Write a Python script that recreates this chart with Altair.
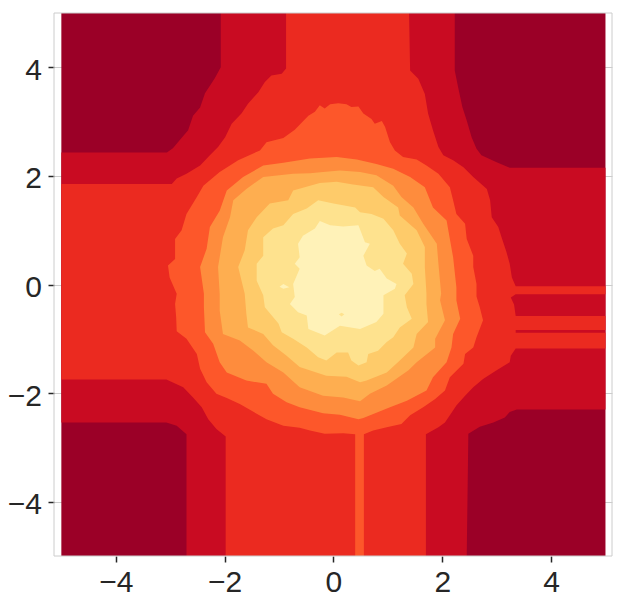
import altair as alt
import pandas as pd

COLORS = ["#9b0027", "#c90b22", "#eb2a20", "#fd572a", "#fe8c3d", "#feae50", "#fecb6a", "#fee28e", "#fff2b8"]

base_x = [-5, 5, 5, -5]
base_y = [5, 5, -5, -5]

red_x = [-2.07, 2.23, 2.23, 2.29, 2.37, 2.45, 2.54, 2.63, 2.72, 3.00, 3.24, 5, 5, 3.37, 3.24, 3.15, 2.94, 2.69, 2.48, 2.45, -2.70, -2.70, -2.88, -3.07, -5, -5, -3.06, -2.95, -2.78, -2.67, -2.58, -2.45, -2.36, -2.18, -2.07]
red_y = [5, 5, 3.94, 3.64, 3.27, 3.02, 2.71, 2.50, 2.38, 2.25, 2.15, 2.15, -2.30, -2.30, -2.35, -2.45, -2.54, -2.62, -2.75, -5, -5, -2.76, -2.60, -2.54, -2.54, 2.43, 2.43, 2.51, 2.71, 2.84, 3.11, 3.26, 3.52, 3.80, 4.00]

ored_x = [-0.87, 1.39, 1.41, 1.56, 1.68, 1.74, 1.83, 1.93, 2.02, 2.20, 2.39, 2.57, 2.82, 2.88, 2.91, 3.03, 3.09, 3.18, 3.24, 3.28, 3.35, 5, 5, 3.35, 3.26, 3.32, 3.35, 5, 5, 3.35, 3.35, 5, 5, 3.35, 3.26, 3.24, 3.00, 2.75, 2.57, 2.42, 2.26, 2.14, 2.05, 1.93, 1.70, 1.70, -1.98, -1.98, -2.15, -2.30, -2.42, -2.58, -2.76, -3.07, -5, -5, -2.97, -2.88, -2.70, -2.45, -2.27, -2.12, -1.99, -1.87, -1.69, -1.57, -1.38, -1.26, -1.14, -0.95, -0.87]
ored_y = [5, 5, 3.94, 3.79, 3.51, 3.15, 2.84, 2.53, 2.38, 2.29, 2.16, 1.98, 1.76, 1.55, 1.24, 1.06, 0.87, 0.60, 0.38, 0.13, -0.03, -0.03, -0.18, -0.18, -0.24, -0.37, -0.58, -0.58, -0.84, -0.84, -0.89, -0.89, -1.18, -1.18, -1.31, -1.43, -1.58, -1.74, -1.89, -2.05, -2.23, -2.41, -2.54, -2.63, -2.76, -5, -5, -2.80, -2.66, -2.48, -2.26, -2.08, -1.89, -1.75, -1.75, 1.85, 1.85, 1.95, 2.04, 2.19, 2.38, 2.53, 2.71, 2.96, 3.15, 3.33, 3.54, 3.73, 3.85, 3.88, 3.98]

flame_x = [-0.25, -0.16, -0.06, 0.09, 0.24, 0.33, 0.46, 0.55, 0.70, 0.76, 0.89, 0.95, 1.04, 1.13, 1.28, 1.53, 1.71, 1.93, 2.14, 2.20, 2.26, 2.42, 2.45, 2.57, 2.57, 2.63, 2.63, 2.69, 2.75, 2.63, 2.57, 2.42, 2.39, 2.14, 2.05, 1.87, 1.65, 1.41, 1.25, 0.98, 0.73, 0.56, 0.56, 0.40, 0.40, 0.18, -0.16, -0.43, -0.62, -0.92, -1.23, -1.41, -1.72, -1.96, -2.15, -2.33, -2.45, -2.51, -2.70, -2.88, -2.89, -2.91, -2.88, -3.01, -3.04, -2.91, -2.91, -2.79, -2.70, -2.51, -2.39, -2.09, -1.75, -1.35, -1.23, -0.92, -0.71, -0.46, -0.34]
flame_y = [3.30, 3.24, 3.32, 3.34, 3.32, 3.27, 3.28, 3.15, 3.05, 2.96, 3.01, 2.90, 2.62, 2.47, 2.35, 2.30, 2.19, 2.04, 1.79, 1.55, 1.30, 1.12, 0.84, 0.53, 0.32, 0.01, -0.22, -0.42, -0.66, -0.97, -1.16, -1.28, -1.46, -1.71, -1.95, -2.11, -2.26, -2.41, -2.57, -2.63, -2.69, -2.76, -5, -5, -2.76, -2.74, -2.75, -2.69, -2.64, -2.60, -2.48, -2.38, -2.20, -2.09, -2.01, -1.80, -1.55, -1.28, -1.00, -0.86, -0.60, -0.36, -0.17, 0.13, 0.35, 0.47, 0.84, 1.00, 1.30, 1.61, 1.82, 2.07, 2.29, 2.47, 2.62, 2.70, 2.85, 3.11, 3.18]

orange_x = [-0.43, 0.06, 0.43, 0.79, 1.10, 1.41, 1.68, 1.83, 2.08, 2.20, 2.26, 2.26, 2.33, 2.20, 2.17, 2.08, 1.83, 1.71, 1.35, 1.04, 0.55, 0.46, 0.12, -0.19, -0.62, -0.86, -1.11, -1.23, -1.60, -1.96, -2.09, -2.21, -2.36, -2.38, -2.38, -2.45, -2.33, -2.27, -2.09, -1.96, -1.66, -1.29, -0.92]
orange_y = [2.32, 2.35, 2.30, 2.22, 2.13, 1.98, 1.79, 1.42, 1.18, 0.50, -0.05, -0.29, -0.63, -0.91, -1.16, -1.43, -1.71, -1.95, -2.14, -2.26, -2.46, -2.48, -2.40, -2.37, -2.26, -2.17, -2.01, -1.83, -1.77, -1.62, -1.43, -1.09, -0.88, -0.42, -0.17, 0.32, 0.66, 1.06, 1.36, 1.73, 1.98, 2.19, 2.24]

amber_x = [-0.43, -0.19, 0.12, 0.49, 0.79, 1.10, 1.25, 1.47, 1.65, 1.90, 1.93, 1.98, 1.96, 2.05, 1.87, 1.87, 1.53, 1.38, 0.98, 0.67, 0.49, 0.18, -0.19, -0.62, -0.92, -1.23, -1.47, -1.72, -2.03, -2.09, -2.09, -2.12, -2.03, -1.90, -1.84, -1.60, -1.29, -0.74]
amber_y = [2.05, 2.07, 2.10, 2.07, 2.01, 1.82, 1.61, 1.42, 1.12, 0.75, 0.38, -0.17, -0.29, -0.66, -1.00, -1.16, -1.43, -1.58, -1.86, -2.01, -2.15, -2.08, -2.05, -1.89, -1.62, -1.43, -1.22, -1.03, -0.91, -0.48, -0.17, 0.32, 0.87, 1.24, 1.55, 1.76, 1.98, 2.04]

gold_x = [-0.43, -0.25, 0.06, 0.36, 0.73, 0.92, 1.19, 1.22, 1.53, 1.68, 1.68, 1.71, 1.71, 1.74, 1.53, 1.47, 1.22, 0.98, 0.61, 0.49, 0.24, -0.13, -0.62, -0.86, -1.11, -1.29, -1.57, -1.60, -1.63, -1.75, -1.63, -1.57, -1.41, -1.17, -0.83, -0.74]
gold_y = [1.82, 1.87, 1.89, 1.84, 1.79, 1.61, 1.42, 1.27, 1.00, 0.69, 0.32, -0.17, -0.36, -0.69, -0.91, -1.16, -1.40, -1.62, -1.77, -1.80, -1.70, -1.68, -1.52, -1.31, -1.12, -0.91, -0.79, -0.54, -0.17, 0.32, 0.63, 1.00, 1.24, 1.49, 1.55, 1.73]

pale_x = [-0.28, 0.00, 0.40, 0.49, 0.70, 0.92, 1.10, 1.22, 1.35, 1.28, 1.44, 1.47, 1.31, 1.35, 1.44, 1.22, 1.10, 0.98, 0.82, 0.64, 0.61, 0.46, 0.33, 0.27, 0.06, -0.13, -0.28, -0.49, -0.74, -0.95, -1.01, -1.26, -1.29, -1.41, -1.41, -1.29, -1.29, -1.11, -0.92, -0.74, -0.49]
pale_y = [1.55, 1.49, 1.42, 1.33, 1.30, 1.21, 1.00, 0.75, 0.57, 0.38, 0.20, 0.01, -0.20, -0.42, -0.63, -0.79, -0.97, -1.06, -1.22, -1.28, -1.43, -1.49, -1.40, -1.25, -1.25, -1.40, -1.34, -1.16, -1.00, -0.88, -0.72, -0.42, -0.20, 0.07, 0.38, 0.53, 0.87, 1.03, 1.09, 1.30, 1.40]

core_x = [-0.25, -0.06, 0.18, 0.46, 0.58, 0.67, 0.55, 0.61, 0.76, 0.85, 0.98, 1.16, 1.13, 0.92, 0.92, 0.79, 0.49, 0.12, -0.16, -0.46, -0.49, -0.65, -0.80, -0.71, -0.74, -0.62, -0.71, -0.62, -0.65, -0.56, -0.34]
core_y = [1.17, 1.09, 1.07, 1.09, 0.78, 0.75, 0.53, 0.35, 0.25, 0.29, 0.11, 0.01, -0.08, -0.20, -0.54, -0.69, -0.82, -0.76, -0.94, -0.82, -0.57, -0.51, -0.36, -0.23, 0.01, 0.29, 0.38, 0.50, 0.75, 0.90, 1.03]

spot_x = [-0.99, -0.92, -0.81, -0.92]
spot_y = [-0.04, 0.01, -0.05, -0.08]

hole_x = [0.10, 0.15, 0.20, 0.15]
hole_y = [-0.55, -0.52, -0.55, -0.59]

TICKS = [-4, -2, 0, 2, 4]

regions = [
    (base_x, base_y, COLORS[0]),
    (red_x, red_y, COLORS[1]),
    (ored_x, ored_y, COLORS[2]),
    (flame_x, flame_y, COLORS[3]),
    (orange_x, orange_y, COLORS[4]),
    (amber_x, amber_y, COLORS[5]),
    (gold_x, gold_y, COLORS[6]),
    (pale_x, pale_y, COLORS[7]),
    (core_x, core_y, COLORS[8]),
    (spot_x, spot_y, COLORS[8]),
    (hole_x, hole_y, COLORS[7]),
]

x_scale = alt.Scale(domain=[-5.135, 5.12], nice=False, zero=False)
y_scale = alt.Scale(domain=[-5, 5], nice=False, zero=False)

common = dict(values=TICKS, title=None, grid=True, gridColor="#cccccc", gridWidth=1,
              domain=False, ticks=True, tickColor="#262626", tickSize=6, tickWidth=1.5,
              labelFont="Liberation Sans", labelFontSize=30, labelColor="#262626",
              labelFlush=False)
x_axis = alt.Axis(labelPadding=5, **common)
y_axis = alt.Axis(labelPadding=6.5, labelOffset=3, **common)

layers = []
for xs, ys, col in regions:
    df = pd.DataFrame({"x": xs, "y": ys, "i": range(len(xs))})
    layers.append(
        alt.Chart(df)
        .mark_line(interpolate="linear-closed", fill=col, stroke=col, strokeWidth=0)
        .encode(
            x=alt.X("x:Q", scale=x_scale, axis=x_axis),
            y=alt.Y("y:Q", scale=y_scale, axis=y_axis),
            order=alt.Order("i:Q"),
        )
    )

frame = alt.Chart(pd.DataFrame({"k": [0]})).mark_rect(filled=False, stroke="#cccccc", strokeWidth=1).encode(
    x=alt.value(0), x2=alt.value(558), y=alt.value(0), y2=alt.value(543)
)
layers.append(frame)

chart = (
    alt.layer(*layers)
    .properties(width=558, height=543, padding={"left": 46, "top": 5, "right": 5, "bottom": 44},
                autosize=alt.AutoSizeParams(type="none"), background="white")
    .configure_view(stroke=None)
)

chart.save("out.html", embed_options={"renderer": "svg", "actions": False})
